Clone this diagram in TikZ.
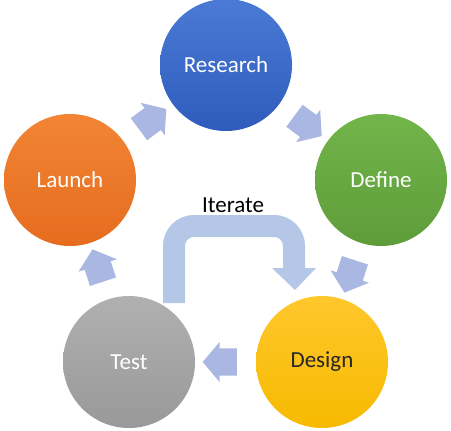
\documentclass[tikz,border=0pt]{standalone}
\usepackage{fontspec}
\setmainfont{Carlito}
\usetikzlibrary{shapes.arrows,calc}
\definecolor{researchtop}{HTML}{4A7AD6}
\definecolor{researchbot}{HTML}{2F5CBC}
\definecolor{definetop}{HTML}{72B54A}
\definecolor{definebot}{HTML}{5E9C3A}
\definecolor{launchtop}{HTML}{F28535}
\definecolor{launchbot}{HTML}{E66C1E}
\definecolor{testtop}{HTML}{B0B0B0}
\definecolor{testbot}{HTML}{999999}
\definecolor{designtop}{HTML}{FFC72C}
\definecolor{designbot}{HTML}{F6BA00}
\definecolor{cyclelav}{HTML}{A9B7E2}
\definecolor{iterblue}{HTML}{B4C7E7}
\begin{document}
\begin{tikzpicture}[x=1pt,y=-1pt,
    phase/.style={circle,minimum size=132pt,inner sep=0pt,text=white,
        font=\fontsize{23}{27}\selectfont},
    cyclearrow/.style={single arrow,fill=cyclelav,minimum height=34pt,
        minimum width=40pt,single arrow head extend=6.5pt,
        single arrow tip angle=100,inner xsep=0pt,inner ysep=13.5pt}]
    \useasboundingbox (0,0) rectangle (451,431);
    % iterate loop behind the circles
    \coordinate (loopstart) at (174,303);
    \coordinate (loopend) at (294,268);
    \draw [line width=22pt,color=iterblue,rounded corners=20pt] (loopstart) -- (174,226) -- (294,226) -- (loopend);
    \fill [iterblue] ($(loopend)+(-22,0)$) -- ($(loopend)+(22,0)$) -- ($(loopend)+(1,22)$) -- cycle;
    \node [font=\fontsize{23}{27}\selectfont] (iterate) at (233,205) {Iterate};
    % the five phases
    \node [phase,top color=researchtop,bottom color=researchbot] (research) at (226,65) {Research};
    \node [phase,top color=definetop,bottom color=definebot] (define) at (381,180) {Define};
    \node [phase,top color=designtop,bottom color=designbot,text=black!85] (design) at (322,362) {Design};
    \node [phase,top color=testtop,bottom color=testbot] (test) at (129,362) {Test};
    \node [phase,top color=launchtop,bottom color=launchbot] (launch) at (70,180) {Launch};
    % arrows round the cycle
    \node [cyclearrow,rotate=36.6] (launchresearch) at ($(launch)!0.5!(research)$) {};
    \node [cyclearrow,rotate=-36.6] (researchdefine) at ($(research)!0.5!(define)$) {};
    \node [cyclearrow,rotate=-108] (definedesign) at ($(define)!0.5!(design)$) {};
    \node [cyclearrow,rotate=180] (designtest) at ($(design)!0.5!(test)$) {};
    \node [cyclearrow,rotate=108] (testlaunch) at ($(test)!0.5!(launch)$) {};
\end{tikzpicture}
\end{document}
